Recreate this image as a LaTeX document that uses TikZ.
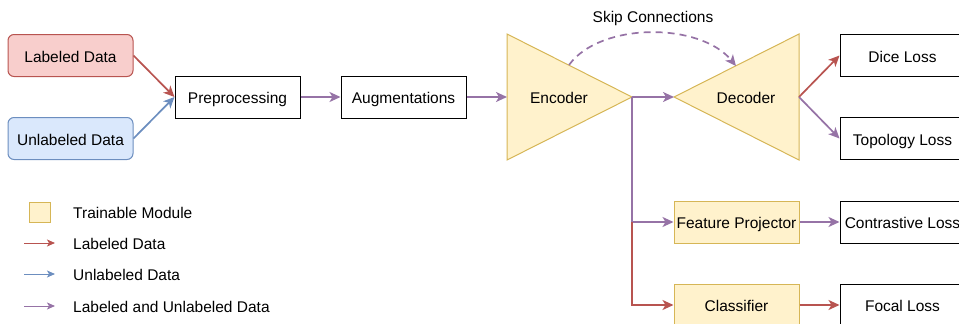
\documentclass[tikz,border=0pt]{standalone}
\usepackage{fontspec}
\setmainfont{Liberation Sans}
\usetikzlibrary{arrows.meta}

\definecolor{lblred}{HTML}{B85450}
\definecolor{lblredfill}{HTML}{F8CECC}
\definecolor{unlblue}{HTML}{6C8EBF}
\definecolor{unlbluefill}{HTML}{DAE8FC}
\definecolor{mixpurple}{HTML}{9673A6}
\definecolor{trainfill}{HTML}{FFF2CC}
\definecolor{trainline}{HTML}{D6B656}

\tikzset{
    txt/.style      = {font=\fontsize{15.5}{18}\selectfont, inner sep=0pt,
                       text height=13pt, text depth=0pt},
    block/.style    = {txt, draw=black, fill=white, line width=1pt,
                       minimum width=125pt, minimum height=42pt},
    trainbox/.style = {block, draw=trainline, fill=trainfill},
    flow/.style     = {line width=1.7pt, -{Stealth[length=11pt,width=10pt,inset=3pt]}},
    keyflow/.style  = {line width=1pt, -{Stealth[length=8pt,width=7pt,inset=2pt]}},
}

\begin{document}
\begin{tikzpicture}[x=1pt, y=-1pt]
                \useasboundingbox (0,0) rectangle (959,324);
                \clip (0,0) rectangle (959,324);

                % inputs and the common front end
                \node [block, draw=lblred, fill=lblredfill, rounded corners=6pt]  (lbl)  at (70.5,55.5)  {Labeled Data};
                \node [block, draw=unlblue, fill=unlbluefill, rounded corners=6pt] (unl) at (70.5,138.5) {Unlabeled Data};
                \node [block] (prep) at (237.5,97) {Preprocessing};
                \node [block] (aug)  at (403.5,97) {Augmentations};

                \draw [flow, lblred]     (lbl.east)  -- (prep.west);
                \draw [flow, unlblue]    (unl.east)  -- (prep.west);
                \draw [flow, mixpurple]  (prep.east) -- (aug.west);

                % encoder / decoder
                \draw [trainline, fill=trainfill, line width=1pt] (507,34) -- (632,97) -- (507,160) -- cycle;
                \draw [trainline, fill=trainfill, line width=1pt] (799,34) -- (674,97) -- (799,160) -- cycle;
                \coordinate (encin)  at (507,97);
                \coordinate (enctip) at (632,97);
                \coordinate (dectip) at (674,97);
                \coordinate (decout) at (799,97);
                \coordinate (skipa)  at (569,65);
                \coordinate (skipb)  at (736,66);
                \coordinate (fork)   at (632,222);
                \node [txt] (enc) at (559,97) {Encoder};
                \node [txt] (dec) at (746,97) {Decoder};
                \node [txt] (skip) at (653,16) {Skip Connections};

                \draw [flow, mixpurple] (aug.east) -- (encin);
                \draw [flow, mixpurple] (enctip) -- (dectip);
                \draw [flow, mixpurple, dashed, dash pattern=on 7pt off 5pt]
                      (skipa) .. controls (600,22) and (700,22) .. (skipb);

                % heads
                \node [trainbox] (proj) at (736.5,222) {Feature Projector};
                \node [trainbox] (cls)  at (736.5,305) {Classifier};

                \draw [mixpurple, line width=1.7pt] (enctip) -- (fork);
                \draw [flow, mixpurple] (fork) -- (proj.west);
                \draw [flow, lblred]    (fork) |- (cls.west);

                % losses
                \node [block] (dice)  at (902.5,55.5)  {Dice Loss};
                \node [block] (topo)  at (902.5,138.5) {Topology Loss};
                \node [block] (contr) at (902.5,222)   {Contrastive Loss};
                \node [block] (focal) at (902.5,305)   {Focal Loss};

                \draw [flow, lblred]    (decout)    -- (dice.west);
                \draw [flow, mixpurple] (decout)    -- (topo.west);
                \draw [flow, mixpurple] (proj.east) -- (contr.west);
                \draw [flow, lblred]    (cls.east)  -- (focal.west);

                % key
                \node [draw=trainline, fill=trainfill, line width=1pt, minimum width=21pt, minimum height=20pt, inner sep=0pt] (keybox) at (40,212) {};
                \node [txt, anchor=west] (keytrain) at (73,212) {Trainable Module};
                \node [txt, anchor=west] (keylbl)   at (73,243) {Labeled Data};
                \node [txt, anchor=west] (keyunl)   at (73,274) {Unlabeled Data};
                \node [txt, anchor=west] (keymix)   at (73,306) {Labeled and Unlabeled Data};
                \coordinate (keyla) at (24,243);  \coordinate (keylb) at (55,243);
                \coordinate (keyua) at (24,274);  \coordinate (keyub) at (55,274);
                \coordinate (keyma) at (24,306);  \coordinate (keymb) at (55,306);

                \draw [keyflow, lblred]    (keyla) -- (keylb);
                \draw [keyflow, unlblue]   (keyua) -- (keyub);
                \draw [keyflow, mixpurple] (keyma) -- (keymb);
            \end{tikzpicture}
\end{document}
